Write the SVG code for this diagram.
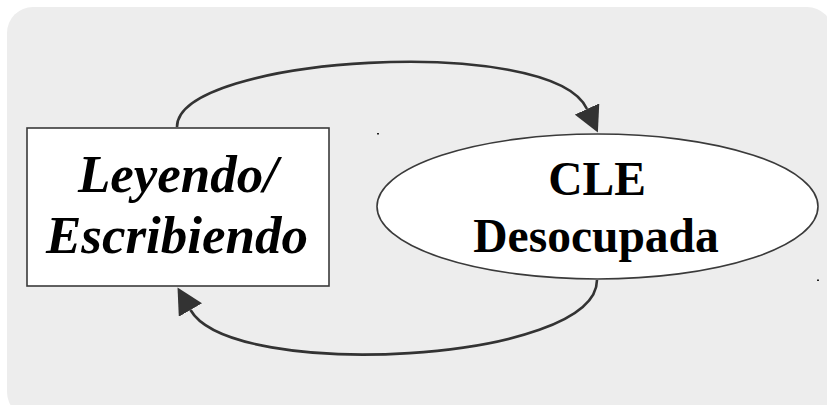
<svg xmlns="http://www.w3.org/2000/svg" width="827" height="405" viewBox="0 0 827 405">
  <style>
    .panel { fill: #ededed; }
    .node { fill: #ffffff; stroke: #3a3a3a; stroke-width: 1.6; }
    .edge { fill: none; stroke: #333333; stroke-width: 2.6; }
    .label { font-family: "Liberation Serif", "Times New Roman", serif; font-weight: bold; fill: #000000; text-anchor: middle; }
    .speck { fill: #222222; }
  </style>
  <defs>
    <marker id="arrow" viewBox="0 0 26 27" markerWidth="26" markerHeight="27" refX="0" refY="13.5" orient="auto" markerUnits="userSpaceOnUse">
      <path d="M0,0 L26,13.5 L0,27 z" fill="#333333"/>
    </marker>
  </defs>

  <!-- background panel -->
  <rect class="panel" x="7" y="7" width="826" height="411" rx="26" ry="26"/>

  <!-- nodes -->
  <g id="node-leyendo">
    <rect class="node" x="27" y="128" width="302" height="158"/>
    <text class="label" font-style="italic" font-size="53" x="178" y="192">Leyendo/</text>
    <text class="label" font-style="italic" font-size="53" x="177" y="253">Escribiendo</text>
  </g>

  <g id="node-cle">
    <ellipse class="node" cx="597.5" cy="206.5" rx="220.5" ry="72.5"/>
    <text class="label" font-size="47.5" x="597" y="195">CLE</text>
    <text class="label" font-size="47.5" x="596" y="252">Desocupada</text>
  </g>

  <!-- connectors -->
  <g id="edges">
    <path class="edge" d="M177,127 C177,56 552,33 587,109" marker-end="url(#arrow)"/>
    <path class="edge" d="M597,280 C597,363 232,382 190.5,310" marker-end="url(#arrow)"/>
  </g>

  <!-- small marks -->
  <rect class="speck" x="377" y="133" width="2" height="1.5"/>
  <rect class="speck" x="817" y="279.5" width="2" height="1.5"/>
</svg>
